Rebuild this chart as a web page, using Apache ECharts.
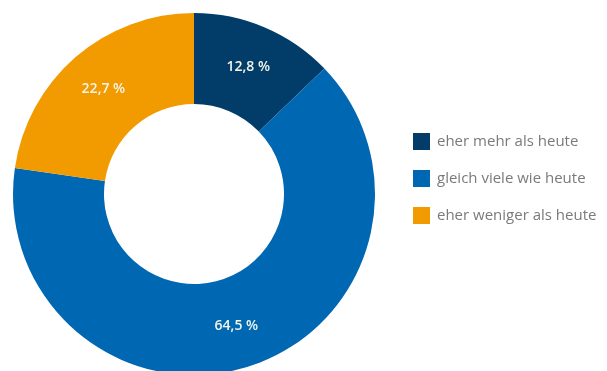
<!DOCTYPE html>
<html>
<head>
<meta charset="utf-8">
<script src="https://cdn.jsdelivr.net/npm/echarts@6/dist/echarts.min.js"></script>
<style>
  html, body { margin: 0; padding: 0; background: #fff; }
  #chart { width: 607px; height: 371px; }
</style>
</head>
<body>
<div id="chart"></div>
<script>
const categories = ["eher mehr als heute", "gleich viele wie heute", "eher weniger als heute"];
const values = [12.8, 64.5, 22.7];
const colors = ["#023d69", "#0068b3", "#f29b00"];

const chart = echarts.init(document.getElementById("chart"));
const option = {
  animation: false,
  color: colors,
  legend: {
    orient: "vertical",
    left: 408,
    top: 128,
    icon: "rect",
    itemWidth: 17,
    itemHeight: 17,
    itemGap: 20,
    textStyle: {
      color: "#7a7a7a",
      fontSize: 15,
      fontFamily: "Open Sans",
      padding: [0, 0, 0, 2]
    },
    data: categories
  },
  series: [
    {
      type: "pie",
      center: [194, 194],
      radius: [90, 181],
      startAngle: 90,
      clockwise: true,
      label: {
        show: true,
        position: "inside",
        color: "#f4f4ea",
        fontSize: 14,
        fontWeight: 600,
        fontFamily: "Open Sans",
        formatter: p => String(p.value).replace(".", ",") + " %"
      },
      labelLine: { show: false },
      emphasis: { disabled: true },
      data: categories.map((name, i) => ({ name: name, value: values[i] }))
    }
  ]
};
chart.setOption(option);
</script>
</body>
</html>
